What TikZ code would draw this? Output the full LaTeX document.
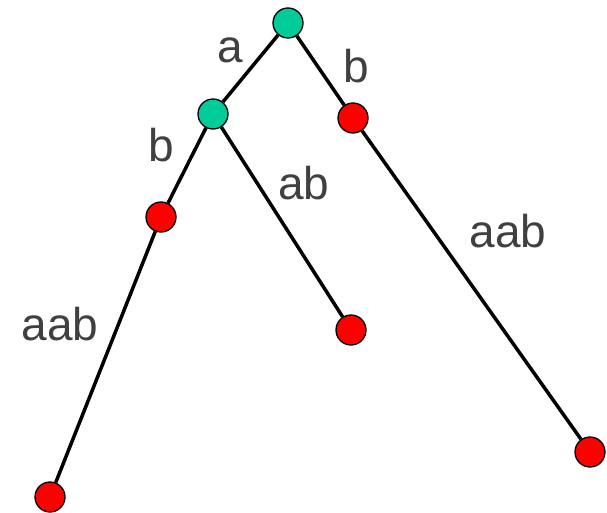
\documentclass[tikz,border=0pt]{standalone}
\usepackage{fontspec}
\setmainfont{Liberation Sans}
\definecolor{nodegreen}{RGB}{0,204,153}
\definecolor{labelgray}{RGB}{64,64,64}
\tikzset{
	inner/.style={circle,draw,line width=1.3pt,fill=nodegreen,minimum size=30pt,inner sep=0pt},
	leaf/.style={circle,draw,line width=1.3pt,fill=red,minimum size=30pt,inner sep=0pt},
	edge/.style={line width=3.5pt},
	lbl/.style={anchor=base,text=labelgray,font=\fontsize{46}{50}\selectfont}
}
\begin{document}
\begin{tikzpicture}[x=1pt,y=-1pt]
		\useasboundingbox (0,0) rectangle (607,513);
		\node[inner] (root) at (288,23) {};
		\node[inner] (na) at (213,114) {};
		\node[leaf] (nb) at (353,118) {};
		\node[leaf] (nab) at (161,217) {};
		\node[leaf] (naab) at (351,330) {};
		\node[leaf] (nabaab) at (50,497) {};
		\node[leaf] (nbaab) at (590,452) {};
		\draw[edge] (root)--(na);
		\draw[edge] (root)--(nb);
		\draw[edge] (na)--(nab);
		\draw[edge] (na)--(naab);
		\draw[edge] (nab)--(nabaab);
		\draw[edge] (nb)--(nbaab);
		\node[lbl] (la) at (230,63) {a};
		\node[lbl] (lb) at (356,83) {b};
		\node[lbl] (lab) at (161,162) {b};
		\node[lbl] (laab) at (304,200) {ab};
		\node[lbl] (lbaab) at (508,247) {aab};
		\node[lbl] (labaab) at (60,340) {aab};
	\end{tikzpicture}
\end{document}
